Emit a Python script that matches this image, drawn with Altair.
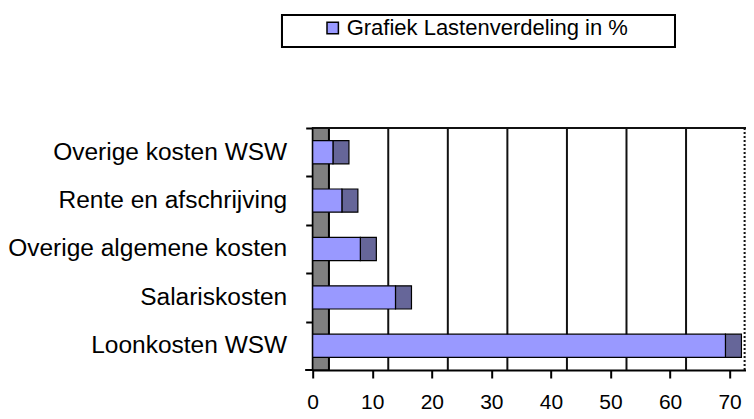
import altair as alt
import pandas as pd

# ---- data ----
categories = ["Overige kosten WSW", "Rente en afschrijving", "Overige algemene kosten",
              "Salariskosten", "Loonkosten WSW"]
values = [3.4, 4.9, 8.0, 13.9, 69.3]
series_name = "Grafiek Lastenverdeling in %"
tick_values = [0, 10, 20, 30, 40, 50, 60, 70]
x_max = 72.7

W, H = 433, 242
DEPTH = 16  # pseudo-3D depth in px
FONT = "Liberation Sans"

bars = pd.DataFrame({"cat": categories, "val": values, "serie": [series_name] * len(categories)})
grid = pd.DataFrame({"g": tick_values[1:-1]})
grid_last = pd.DataFrame({"g": [tick_values[-1]]})

xscale = alt.Scale(domain=[0, x_max], nice=False, zero=True)
yscale = alt.Scale(domain=categories, paddingInner=0, paddingOuter=0)

xaxis = alt.Axis(values=tick_values, title=None, grid=False, labelFontSize=21, labelFont=FONT,
                 labelColor="black", tickColor="black", tickSize=8, tickWidth=2,
                 domainColor="black", domainWidth=2, labelPadding=14, labelFlush=False)
step = H / len(categories)
yaxis = alt.Axis(title=None, grid=False, labelFontSize=24.5, labelFont=FONT, labelColor="black",
                 tickColor="black", tickSize=7, tickWidth=2, domainColor="black", domainWidth=2,
                 tickOffset=-step / 2, labelOffset=step / 2, labelPadding=19, labelLimit=600)

base = alt.Chart(bars)

# back wall (left side wall)
wall = base.mark_rect(fill="#808080", stroke="black", strokeWidth=1.5, x2Offset=DEPTH).encode(
    x=alt.datum(0, scale=xscale, axis=xaxis), x2=alt.datum(0),
    y=alt.value(0), y2=alt.value(H))

gridlines = alt.Chart(grid).mark_rule(stroke="#111", strokeWidth=2, xOffset=DEPTH).encode(
    x=alt.X("g:Q", scale=xscale, axis=xaxis), y=alt.value(0), y2=alt.value(H))

gridlast = alt.Chart(grid_last).mark_rule(stroke="#111", strokeWidth=2, strokeDash=[2, 2],
                                          xOffset=DEPTH - 1).encode(
    x=alt.X("g:Q", scale=xscale, axis=xaxis), y=alt.value(0), y2=alt.value(H))

topline = base.mark_rule(stroke="#111", strokeWidth=2).encode(
    x=alt.value(0), x2=alt.value(W), y=alt.value(0))

bottom_tick = base.mark_rule(stroke="black", strokeWidth=2).encode(
    x=alt.value(-7), x2=alt.value(0), y=alt.value(H))

side = base.mark_bar(fill="#666699", stroke="black", strokeWidth=1.2, x2Offset=DEPTH,
                     height={"band": 0.48}).encode(
    y=alt.Y("cat:N", scale=yscale, sort=categories, axis=yaxis),
    x=alt.X("val:Q", scale=xscale, axis=xaxis), x2="val:Q")

front = base.mark_bar(stroke="black", strokeWidth=1.2, height={"band": 0.48}).encode(
    y=alt.Y("cat:N", scale=yscale, sort=categories, axis=yaxis),
    x=alt.X("val:Q", scale=xscale, axis=xaxis),
    color=alt.Color("serie:N", scale=alt.Scale(range=["#9999FF"]),
                    legend=alt.Legend(title=None, orient="none", legendX=9, legendY=-111,
                                      symbolType="square", symbolSize=130,
                                      symbolStrokeColor="black", symbolStrokeWidth=1.5,
                                      symbolOpacity=1, labelFontSize=22, labelFont=FONT,
                                      labelColor="black", labelOffset=3, padding=0,
                                      labelLimit=600)))

legend_box = base.mark_rect(fill="white", stroke="black", strokeWidth=2).encode(
    x=alt.value(-30.7), x2=alt.value(362.3), y=alt.value(-113), y2=alt.value(-81))

chart = alt.layer(legend_box, wall, gridlines, gridlast, topline, bottom_tick, side, front).properties(
    width=W, height=H,
    autosize=alt.AutoSizeParams(type="none"),
    padding={"left": 304.7, "top": 120, "right": 0, "bottom": 48},
).configure_view(stroke=None).configure(background="white")

chart.save("out.html", embed_options={"renderer": "svg", "actions": False})
